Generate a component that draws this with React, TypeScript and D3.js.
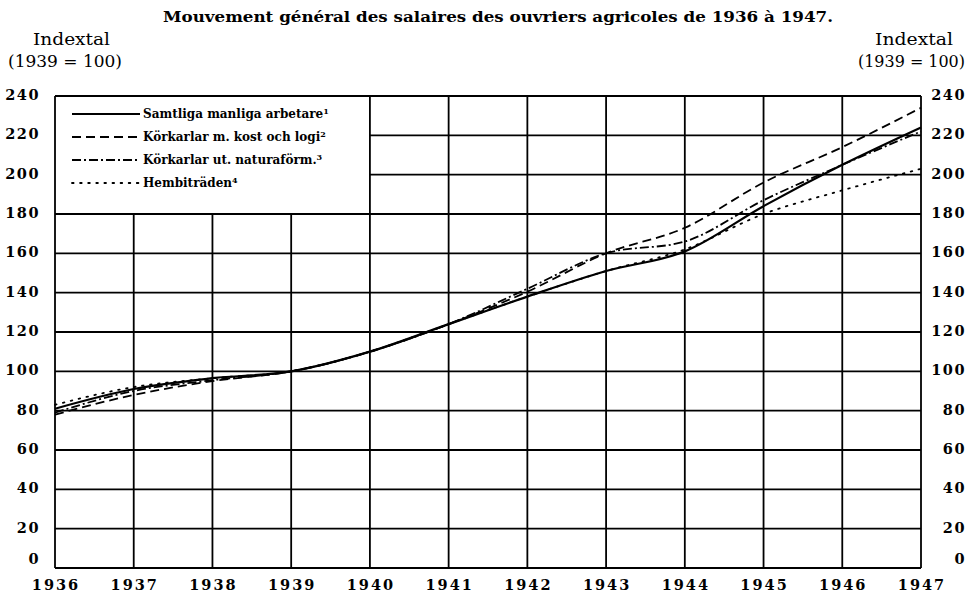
import React from "react";
import * as d3 from "d3";

const years = [1936, 1937, 1938, 1939, 1940, 1941, 1942, 1943, 1944, 1945, 1946, 1947];
const samtliga = [81, 91, 96.5, 100, 110, 124, 138, 151, 161, 184, 205, 224];
const korkarlarKost = [78, 88, 95, 100, 110, 124, 140.5, 160, 173, 196, 214, 234];
const korkarlarUt = [79, 90, 95.5, 100, 110, 124, 142, 160, 166, 187, 205, 222];
const hembitraden = [83, 92, 96.5, 100, 110, 124, 138, 151, 162, 180, 192, 203];
const yTicks = [0, 20, 40, 60, 80, 100, 120, 140, 160, 180, 200, 220, 240];

const seriesNames = [
  "Samtliga manliga arbetare",
  "Körkarlar m. kost och logi",
  "Körkarlar ut. naturaförm.",
  "Hembiträden",
];
const seriesNotes = ["1", "2", "3", "4"];
const seriesValues = [samtliga, korkarlarKost, korkarlarUt, hembitraden];
const seriesDash = ["none", "9,5", "9,3,2,3", "1.6,6.5"];
const seriesWidth = [2.2, 1.8, 1.8, 1.8];

const title = "Mouvement général des salaires des ouvriers agricoles de 1936 à 1947.";

const W = 971;
const H = 592;
const font = "'DejaVu Serif', 'Liberation Serif', serif";

export default function App() {
  const x = d3.scaleLinear().domain([1936, 1947]).range([55, 921]);
  const y = d3.scaleLinear().domain([0, 240]).range([568, 96]);
  const line = d3
    .line<number>()
    .x((_, i) => x(years[i]))
    .y((d) => y(d))
    .curve(d3.curveMonotoneX);

  const legendRight = x(1940);
  const legendBottom = y(180);

  const labelY = (t: number) => (t === 0 ? y(t) - 4 : y(t) + 4);

  return (
    <svg
      width={W}
      height={H}
      style={{ position: "absolute", left: 0, top: 0, background: "#fff" }}
      fontFamily={font}
    >
      <rect x={0} y={0} width={W} height={H} fill="#fff" />
      {/* title */}
      <text
        x={163}
        y={22}
        fontSize={15}
        fontWeight="bold"
        textLength={670}
        lengthAdjust="spacingAndGlyphs"
      >
        {title}
      </text>
      <text x={33} y={45} fontSize={16} textLength={77} lengthAdjust="spacingAndGlyphs">
        Indextal
      </text>
      <text x={8} y={67} fontSize={16} textLength={114} lengthAdjust="spacingAndGlyphs">
        (1939 = 100)
      </text>
      <text x={875} y={45} fontSize={16} textLength={78} lengthAdjust="spacingAndGlyphs">
        Indextal
      </text>
      <text x={858} y={67} fontSize={16} textLength={107} lengthAdjust="spacingAndGlyphs">
        (1939 = 100)
      </text>

      {/* horizontal grid */}
      {yTicks.map((t) => {
        const inLegend = t > 180 && t < 240;
        return (
          <line
            key={"h" + t}
            x1={inLegend ? legendRight : x(1936)}
            x2={x(1947)}
            y1={y(t)}
            y2={y(t)}
            stroke="#000"
            strokeWidth={1.8}
          />
        );
      })}
      {/* vertical grid */}
      {years.map((yr) => {
        const inLegend = yr > 1936 && yr < 1940;
        return (
          <line
            key={"v" + yr}
            x1={x(yr)}
            x2={x(yr)}
            y1={inLegend ? legendBottom : y(240)}
            y2={y(0)}
            stroke="#000"
            strokeWidth={1.8}
          />
        );
      })}

      {/* y tick labels */}
      {yTicks.map((t) => (
        <g key={"yl" + t}>
          <text
            x={40}
            y={labelY(t)}
            fontSize={14.5}
            fontWeight="bold"
            textAnchor="end"
            letterSpacing={1.5}
          >
            {t}
          </text>
          <text
            x={966}
            y={labelY(t)}
            fontSize={14.5}
            fontWeight="bold"
            textAnchor="end"
            letterSpacing={1.5}
          >
            {t}
          </text>
        </g>
      ))}
      {/* x tick labels */}
      {years.map((yr) => (
        <text
          key={"xl" + yr}
          x={x(yr) + 1}
          y={590}
          fontSize={14.5}
          fontWeight="bold"
          textAnchor="middle"
          letterSpacing={2}
        >
          {yr}
        </text>
      ))}

      {/* series */}
      {seriesValues.map((vals, i) => (
        <path
          key={"s" + i}
          d={line(vals) || ""}
          fill="none"
          stroke="#000"
          strokeWidth={seriesWidth[i]}
          strokeDasharray={seriesDash[i]}
          strokeLinecap={i === 3 ? "round" : "butt"}
        />
      ))}

      {/* legend */}
      {seriesNames.map((name, i) => {
        const ly = 114 + i * 23;
        return (
          <g key={"lg" + i}>
            <line
              x1={72}
              x2={140}
              y1={ly}
              y2={ly}
              stroke="#000"
              strokeWidth={seriesWidth[i]}
              strokeDasharray={seriesDash[i]}
              strokeLinecap={i === 3 ? "round" : "butt"}
            />
            <text x={143} y={ly + 4} fontSize={12} fontWeight="bold">
              {name}
              <tspan fontSize={8} dy={-4}>
                {seriesNotes[i]}
              </tspan>
            </text>
          </g>
        );
      })}
    </svg>
  );
}
